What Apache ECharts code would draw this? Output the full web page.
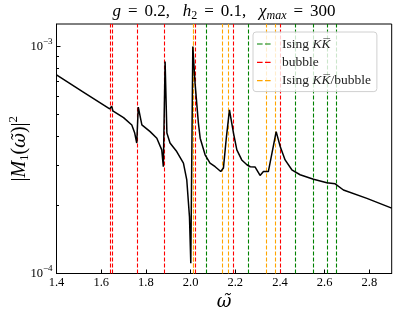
<!DOCTYPE html>
<html><head><meta charset="utf-8">
<script src="https://cdn.jsdelivr.net/npm/echarts@6/dist/echarts.min.js"></script>
<style>html,body{margin:0;padding:0;background:#fff}#c{width:398px;height:315px}</style>
</head><body><div id="c"></div>
<script>
// curve |M1(omega)|^2
const omega = [1.40, 1.52, 1.638, 1.641, 1.647, 1.652, 1.70, 1.737, 1.750, 1.759, 1.766, 1.782, 1.819, 1.849, 1.871, 1.878, 1.886, 1.894, 1.908, 1.938, 1.968, 1.983, 1.995, 2.001, 2.010, 2.020, 2.035, 2.043, 2.065, 2.087, 2.110, 2.135, 2.147, 2.159, 2.174, 2.181, 2.192, 2.207, 2.229, 2.252, 2.267, 2.289, 2.311, 2.326, 2.348, 2.364, 2.383, 2.401, 2.423, 2.453, 2.490, 2.550, 2.610, 2.647, 2.684, 2.789, 2.900];
const m2 = [7.49e-4, 6.29e-4, 5.30e-4, 5.20e-4, 5.45e-4, 5.20e-4, 4.85e-4, 4.50e-4, 4.15e-4, 3.75e-4, 5.40e-4, 4.51e-4, 4.21e-4, 3.94e-4, 3.50e-4, 2.95e-4, 8.57e-4, 4.15e-4, 3.75e-4, 3.44e-4, 3.06e-4, 2.58e-4, 1.78e-4, 1.11e-4, 9.98e-4, 6.88e-4, 4.59e-4, 3.94e-4, 3.33e-4, 3.06e-4, 2.95e-4, 2.81e-4, 2.91e-4, 3.87e-4, 5.25e-4, 5.16e-4, 4.15e-4, 3.50e-4, 3.16e-4, 3.01e-4, 2.95e-4, 2.94e-4, 2.70e-4, 2.81e-4, 2.81e-4, 3.38e-4, 4.21e-4, 3.62e-4, 3.16e-4, 2.86e-4, 2.72e-4, 2.60e-4, 2.51e-4, 2.48e-4, 2.33e-4, 2.14e-4, 1.94e-4];
// vertical reference lines
const isingKK = [2.074, 2.259, 2.471, 2.549, 2.612, 2.650];
const bubble = [1.638, 1.648, 1.764, 1.883, 2.025, 2.190, 2.402];
const isingKKBubble = [2.006, 2.012, 2.138, 2.167, 2.338, 2.375];
// axes
const xTicks = [1.4, 1.6, 1.8, 2.0, 2.2, 2.4, 2.6, 2.8];
const yMajor = [1e-4, 1e-3];
const yMinor = [2e-4, 3e-4, 4e-4, 5e-4, 6e-4, 7e-4, 8e-4, 9e-4];
const legendNames = ['Ising KK', 'bubble', 'Ising KK/bubble'];

const FONT = 'Liberation Serif';
const MFONT = 'DejaVu Serif';
const chart = echarts.init(document.getElementById('c'), null, {renderer: 'canvas'});

const dashIcon = 'path://M0,0L0.01,0L0,0.01Z M20,12L19.99,12L20,11.99Z M0,5.4H5.6V6.6H0Z M8,5.4H13.6V6.6H8Z';

function vline(name, vals, color) {
  return {
    name: name, type: 'line', data: [], symbol: 'none', silent: true,
    lineStyle: {color: color, width: 1.2, type: [4, 2]},
    itemStyle: {color: color},
    markLine: {
      symbol: 'none', silent: true, animation: false,
      label: {show: false},
      lineStyle: {color: color, width: 1.1, type: [4, 2]},
      data: vals.map(v => ({xAxis: v}))
    },
    z: 2
  };
}

const overK = 'K\u0305';
const legendRich = {i: {fontFamily: FONT, fontStyle: 'italic', fontSize: 13.5, color: '#222'}};

chart.setOption({
  animation: false,
  grid: {left: 56.5, right: 6.3, top: 24, bottom: 41.5, show: true, borderColor: '#000', borderWidth: 1, outerBoundsMode: 'none'},
  graphic: [{
    type: 'text', x: 224, y: 12,
    style: {
      text: '{i|g}{eq|=}0.2,   {i|h}{sub|2}{eq|=}0.1,   {i|χ}{subi|max}{eq|=}300',
      align: 'center', verticalAlign: 'middle',
      fontFamily: FONT, fontSize: 17, fill: '#000',
      rich: {
        i: {fontFamily: FONT, fontStyle: 'italic', fontSize: 17},
        eq: {fontFamily: FONT, fontSize: 17, padding: [0, 7, 0, 7]},
        sub: {fontFamily: FONT, fontSize: 12, padding: [8, 0, 0, 0]},
        subi: {fontFamily: FONT, fontStyle: 'italic', fontSize: 12, padding: [8, 0, 0, 0]}
      }
    }
  }],
  legend: {
    orient: 'vertical', left: 253, top: 32, z: 20,
    padding: [5, 6, 4, 4], itemGap: 4.3, itemWidth: 20, itemHeight: 14,
    backgroundColor: 'rgba(255,255,255,0.8)', borderColor: '#d0d0d0', borderWidth: 1, borderRadius: 3,
    data: legendNames.map(n => ({name: n, icon: dashIcon})),
    textStyle: {fontFamily: FONT, fontSize: 13.5, color: '#222', rich: legendRich},
    formatter: n => n.replace('KK', '{i|K' + overK + '}'),
    selectedMode: false
  },
  xAxis: {
    type: 'value', min: 1.4, max: 2.9,
    name: '{i|ω\u0303}', nameLocation: 'middle', nameGap: 20, nameMoveOverlap: false,
    nameTextStyle: {fontFamily: MFONT, fontSize: 18, color: '#000', rich: {i: {fontFamily: MFONT, fontStyle: 'italic', fontSize: 18}}},
    axisLine: {show: true, lineStyle: {color: '#000', width: 1}},
    axisTick: {show: true, inside: true, length: 4, customValues: xTicks, lineStyle: {color: '#000'}},
    axisLabel: {customValues: xTicks, formatter: v => v.toFixed(1), fontFamily: FONT, fontSize: 12.5, color: '#000', margin: 3},
    splitLine: {show: false}
  },
  yAxis: [{
    type: 'log', min: 1e-4, max: 1.253e-3, logBase: 10,
    name: '|{i|M}{sub|1}({w|ω\u0303})|{sup|2}', nameLocation: 'middle', nameGap: 24, nameRotate: 90, nameMoveOverlap: false,
    nameTextStyle: {fontFamily: FONT, fontSize: 20, color: '#000', rich: {
      i: {fontFamily: FONT, fontStyle: 'italic', fontSize: 20},
      w: {fontFamily: MFONT, fontStyle: 'italic', fontSize: 18},
      sub: {fontFamily: FONT, fontSize: 13, padding: [9, 0, 0, 0]},
      sup: {fontFamily: FONT, fontSize: 13, padding: [0, 0, 12, 0]}
    }},
    axisLine: {show: true, lineStyle: {color: '#000', width: 1}},
    axisTick: {show: true, inside: true, length: 4, customValues: yMajor, lineStyle: {color: '#000'}},
    axisLabel: {
      customValues: yMajor, margin: 4,
      formatter: v => '{b|10}{s|−' + Math.round(-Math.log10(v)) + '}',
      rich: {
        b: {fontFamily: FONT, fontSize: 12.5, color: '#000'},
        s: {fontFamily: FONT, fontSize: 9, color: '#000', padding: [0, 0, 10, 0]}
      }
    },
    splitLine: {show: false}, minorTick: {show: false}
  }, {
    type: 'log', min: 1e-4, max: 1.253e-3, logBase: 10, position: 'left',
    axisLine: {show: false},
    axisTick: {show: true, inside: true, length: 2.5, customValues: yMinor, lineStyle: {color: '#000'}},
    axisLabel: {show: false}, splitLine: {show: false}
  }],
  series: [
    vline(legendNames[0], isingKK, '#008000'),
    vline(legendNames[1], bubble, '#ff0000'),
    vline(legendNames[2], isingKKBubble, '#ffa500'),
    {
      name: 'M1', type: 'line', symbol: 'none', z: 5,
      lineStyle: {color: '#000', width: 1.5},
      data: omega.map((w, k) => [w, m2[k]])
    }
  ]
});
</script></body></html>
